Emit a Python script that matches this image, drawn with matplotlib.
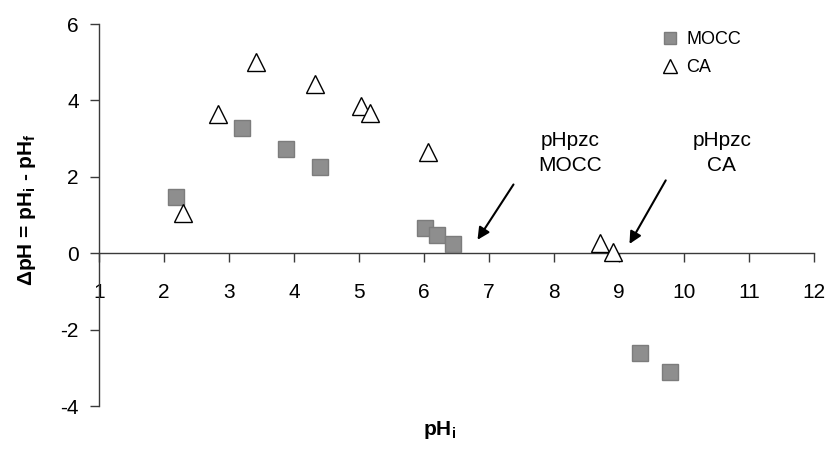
import matplotlib
matplotlib.use("Agg")
import matplotlib.pyplot as plt

plt.rcParams["font.family"] = ["Liberation Sans", "DejaVu Sans"]
plt.rcParams["axes.unicode_minus"] = False

# data
mocc_ph = [2.18, 3.20, 3.88, 4.40, 6.02, 6.20, 6.45, 9.32, 9.78]
mocc_dph = [1.48, 3.28, 2.72, 2.25, 0.65, 0.47, 0.25, -2.62, -3.10]

ca_ph = [2.29, 2.83, 3.42, 4.32, 5.03, 5.17, 6.06, 8.71, 8.91]
ca_dph = [1.05, 3.65, 5.00, 4.43, 3.86, 3.67, 2.65, 0.26, 0.02]

x_ticks = list(range(1, 13))
y_ticks = [-4, -2, 0, 2, 4, 6]

fig = plt.figure(figsize=(8.30, 4.68), dpi=100)
ax = fig.add_axes([99 / 830, 1 - 406 / 468, 715 / 830, 382 / 468])

ax.plot(mocc_ph, mocc_dph, linestyle="none", marker="s", markersize=11.5,
        markerfacecolor="#8e8e8e", markeredgecolor="#7c7c7c",
        markeredgewidth=1.0, label="MOCC", clip_on=False, zorder=3)
ax.plot(ca_ph, ca_dph, linestyle="none", marker="^", markersize=12.5,
        markerfacecolor="white", markeredgecolor="black",
        markeredgewidth=1.0, label="CA", clip_on=False, zorder=4)

ax.set_xlim(1, 12)
ax.set_ylim(-4, 6)
ax.set_xticks(x_ticks)
ax.set_yticks(y_ticks)

ax.spines["top"].set_visible(False)
ax.spines["right"].set_visible(False)
ax.spines["bottom"].set_position(("data", 0))
for s in ("left", "bottom"):
    ax.spines[s].set_color("#3a3a3a")
    ax.spines[s].set_linewidth(1.0)

ax.tick_params(axis="x", direction="out", length=6.5, width=1.0,
               color="#3a3a3a", pad=15, labelsize=15)
ax.tick_params(axis="y", direction="out", length=6.5, width=1.0,
               color="#3a3a3a", pad=8, labelsize=15)

# annotations for the points of zero charge
ax.annotate("", xy=(6.80, 0.29), xytext=(7.40, 1.86),
            arrowprops=dict(arrowstyle="-|>", color="black", lw=1.5,
                            mutation_scale=18))
ax.annotate("", xy=(9.14, 0.18), xytext=(9.74, 1.97),
            arrowprops=dict(arrowstyle="-|>", color="black", lw=1.5,
                            mutation_scale=18))
ax.text(8.25, 2.62, "pHpzc\nMOCC", ha="center", va="center",
        fontsize=15, linespacing=1.35)
ax.text(10.58, 2.62, "pHpzc\nCA", ha="center", va="center",
        fontsize=15, linespacing=1.35)

ax.legend(loc="upper left", bbox_to_anchor=(662 / 830, 1 - 31 / 468),
          bbox_transform=fig.transFigure, frameon=False, fontsize=13,
          handlelength=0.9, handletextpad=0.45, labelspacing=0.6,
          markerscale=0.8, borderpad=0, borderaxespad=0)

fig.text(440 / 830, 1 - 430 / 468, r"pH$_\mathregular{i}$", ha="center",
         va="center", fontsize=15, fontweight="bold")
fig.text(27 / 830, 1 - 210 / 468,
         r"ΔpH = pH$_\mathregular{i}$ - pH$_\mathregular{f}$",
         ha="center", va="center", rotation=90, fontsize=15,
         fontweight="bold")

fig.savefig("out.png", dpi=100)
